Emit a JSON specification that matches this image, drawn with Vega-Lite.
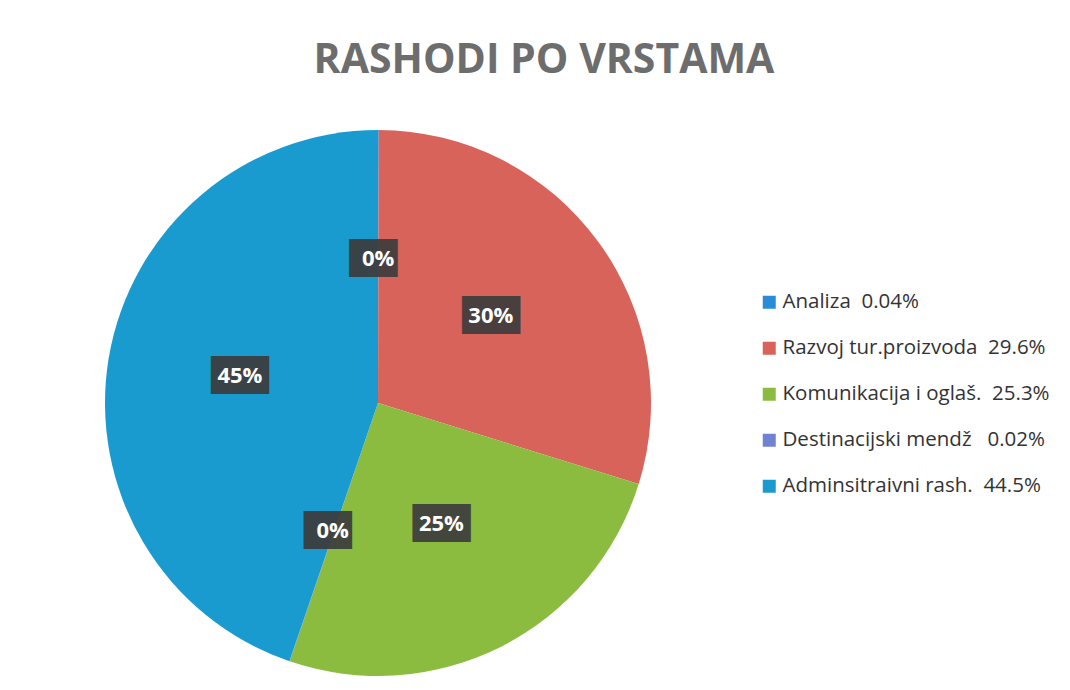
{
  "$schema": "https://vega.github.io/schema/vega-lite/v6.json",
  "width": 546,
  "height": 546,
  "autosize": {"type": "none"},
  "padding": {"left": 105, "top": 130, "right": 419, "bottom": 14},
  "background": "#ffffff",
  "title": {
    "text": "RASHODI PO VRSTAMA",
    "font": "Open Sans",
    "fontSize": 41,
    "fontWeight": "bold",
    "color": "#6d6d6d",
    "anchor": "middle",
    "dx": 166,
    "baseline": "alphabetic",
    "offset": 16
  },
  "data": {
    "values": [
      {"i": 1, "name": "Analiza\u00a0\u00a00.04%", "pct": 0.0004},
      {"i": 2, "name": "Razvoj tur.proizvoda\u00a0\u00a029.6%", "pct": 0.296},
      {"i": 3, "name": "Komunikacija i oglaš.\u00a0\u00a025.3%", "pct": 0.253},
      {"i": 4, "name": "Destinacijski mendž\u00a0\u00a0\u00a00.02%", "pct": 0.0002},
      {"i": 5, "name": "Adminsitraivni rash.\u00a0\u00a044.5%", "pct": 0.445}
    ]
  },
  "encoding": {
    "theta": {"field": "pct", "type": "quantitative", "stack": true},
    "order": {"field": "i", "type": "quantitative"}
  },
  "layer": [
    {
      "mark": {"type": "arc", "outerRadius": 273},
      "encoding": {
        "color": {
          "field": "name",
          "type": "nominal",
          "sort": null,
          "scale": {
            "domain": ["Analiza\u00a0\u00a00.04%", "Razvoj tur.proizvoda\u00a0\u00a029.6%", "Komunikacija i oglaš.\u00a0\u00a025.3%", "Destinacijski mendž\u00a0\u00a0\u00a00.02%", "Adminsitraivni rash.\u00a0\u00a044.5%"],
            "range": ["#2a8bd6", "#d8635b", "#8cbc3f", "#7282d2", "#1a9bcf"]
          },
          "legend": {
            "title": null,
            "orient": "none",
            "legendX": 654,
            "legendY": 162,
            "padding": 0,
            "symbolType": "square",
            "symbolSize": 169,
            "symbolStrokeWidth": 0,
            "labelFont": "Open Sans",
            "labelFontSize": 20.5,
            "labelColor": "#333333",
            "labelOffset": 3,
            "labelLimit": 400,
            "rowPadding": 25
          }
        }
      }
    },
    {
      "mark": {"type": "text", "radius": 140, "font": "DejaVu Sans Mono", "fontSize": 32, "baseline": "middle", "align": "center", "dy": -4, "color": "#3c3c3c", "opacity": 0.92},
      "encoding": {
        "text": {"condition": {"test": "datum.pct >= 0.1", "value": "███"}, "value": "██▌"}
      }
    },
    {
      "mark": {"type": "text", "radius": 140, "font": "Open Sans", "fontSize": 22, "fontWeight": "bold", "baseline": "middle", "align": "center", "dy": -4, "color": "#ffffff"},
      "encoding": {
        "text": {"field": "pct", "type": "quantitative", "format": ".0%"}
      }
    }
  ]
}
